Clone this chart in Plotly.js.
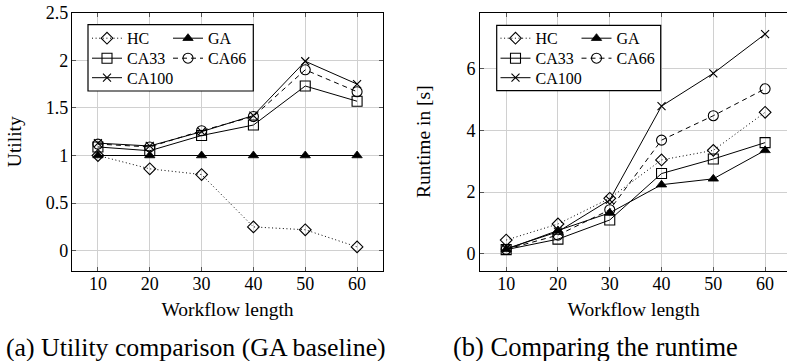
<!DOCTYPE html>
<html><head><meta charset="utf-8">
<script src="https://cdn.plot.ly/plotly-3.0.1.min.js"></script>
<style>html,body{margin:0;padding:0;background:#fff}#chart{width:787px;height:361px}</style>
</head><body><div id="chart"></div>
<script>
// ---- data ----
const workflowLength = [10, 20, 30, 40, 50, 60];
const seriesNames = ['HC', 'GA', 'CA33', 'CA66', 'CA100'];
const utilHC    = [1.00, 0.86, 0.80, 0.25, 0.22, 0.04];
const utilGA    = [1.00, 1.00, 1.00, 1.00, 1.00, 1.00];
const utilCA33  = [1.09, 1.05, 1.21, 1.32, 1.73, 1.57];
const utilCA66  = [1.12, 1.09, 1.26, 1.41, 1.90, 1.67];
const utilCA100 = [1.13, 1.10, 1.25, 1.42, 1.99, 1.75];
const runHC     = [0.45, 0.97, 1.80, 3.04, 3.35, 4.58];
const runGA     = [0.15, 0.76, 1.33, 2.24, 2.43, 3.35];
const runCA33   = [0.14, 0.48, 1.10, 2.60, 3.07, 3.60];
const runCA66   = [0.15, 0.61, 1.43, 3.68, 4.47, 5.34];
const runCA100  = [0.17, 0.72, 1.75, 4.78, 5.84, 7.11];
const utilTicks = [0, 0.5, 1, 1.5, 2, 2.5];
const utilTickText = ['0', '0.5', '1', '1.5', '2', '2.5'];
const runTicks = [0, 2, 4, 6];
const captions = ['(a) Utility comparison (GA baseline)', '(b) Comparing the runtime'];

// ---- helpers (pixel -> paper) ----
const W = 787, H = 361;
const px = v => v / W;
const py = v => (H - v) / H;

const styles = {
  HC:    {line: {color: '#000', width: 1, dash: '1px,2.6px'}, marker: {symbol: 'diamond-open', size: 9, color: '#000', line: {width: 1.1}}},
  GA:    {line: {color: '#000', width: 1}, marker: {symbol: 'triangle-up', size: 9, color: '#000', line: {width: 0.8, color: '#000'}}},
  CA33:  {line: {color: '#000', width: 1}, marker: {symbol: 'square-open', size: 10, color: '#000', line: {width: 1.1}}},
  CA66:  {line: {color: '#000', width: 1, dash: '5px,4px'}, marker: {symbol: 'circle-open', size: 10, color: '#000', line: {width: 1.1}}},
  CA100: {line: {color: '#000', width: 1}, marker: {symbol: 'x-thin-open', size: 8, color: '#000', line: {width: 1.1}}}
};
const legendWidths = {HC: 36, GA: 70, CA33: 36, CA66: 70, CA100: 90};

const utilData = {HC: utilHC, GA: utilGA, CA33: utilCA33, CA66: utilCA66, CA100: utilCA100};
const runData  = {HC: runHC, GA: runGA, CA33: runCA33, CA66: runCA66, CA100: runCA100};
const legendRowLeft  = {HC: 'legend', GA: 'legend', CA33: 'legend2', CA66: 'legend2', CA100: 'legend3'};
const legendRowRight = {HC: 'legend4', GA: 'legend4', CA33: 'legend5', CA66: 'legend5', CA100: 'legend6'};

const traces = [];
seriesNames.forEach(n => {
  traces.push(Object.assign({type: 'scatter', mode: 'lines+markers', name: n, x: workflowLength, y: utilData[n],
    xaxis: 'x', yaxis: 'y', legend: legendRowLeft[n], legendwidth: legendWidths[n], cliponaxis: false},
    JSON.parse(JSON.stringify(styles[n]))));
});
seriesNames.forEach(n => {
  traces.push(Object.assign({type: 'scatter', mode: 'lines+markers', name: n, x: workflowLength, y: runData[n],
    xaxis: 'x2', yaxis: 'y2', legend: legendRowRight[n], legendwidth: legendWidths[n], cliponaxis: true},
    JSON.parse(JSON.stringify(styles[n]))));
});

const FONT = 'Liberation Serif';
const legendBase = {orientation: 'h', xanchor: 'left', yanchor: 'middle', entrywidth: 36, entrywidthmode: 'pixels',
  bgcolor: 'rgba(0,0,0,0)', borderwidth: 0, itemwidth: 30, font: {family: FONT, size: 16, color: '#000'}, traceorder: 'normal'};
const mkLegend = (x, y) => Object.assign({}, legendBase, {x: px(x), y: py(y)});

const axisBase = {showgrid: true, gridcolor: '#d0d0d0', gridwidth: 1, showline: true, linecolor: '#000', linewidth: 1.2,
  ticks: 'inside', ticklen: 4, tickcolor: '#555', tickwidth: 1, zeroline: false, fixedrange: true,
  tickfont: {family: FONT, size: 18, color: '#000'}};

const yDom = [py(270.7), py(12.7)];

const layout = {
  width: W, height: H, margin: {l: 0, r: 0, t: 0, b: 0}, paper_bgcolor: '#fff', plot_bgcolor: '#fff',
  font: {family: FONT, color: '#000'}, showlegend: true,
  xaxis: Object.assign({}, axisBase, {domain: [px(72), px(383)], range: [5, 65], tickvals: workflowLength, mirror: 'ticks', anchor: 'y',
    ticklabelstandoff: -4,
    title: {text: 'Workflow length', font: {family: FONT, size: 19.5, color: '#000'}, standoff: 9}}),
  yaxis: Object.assign({}, axisBase, {domain: yDom, range: [-0.21, 2.5], tickvals: utilTicks, ticktext: utilTickText, mirror: 'ticks', anchor: 'x',
    ticklabelstandoff: -1,
    title: {text: 'Utility', font: {family: FONT, size: 19.5, color: '#000'}, standoff: 18}}),
  xaxis2: Object.assign({}, axisBase, {domain: [px(480.3), 1], range: [5, 64.23], tickvals: workflowLength, mirror: 'ticks', anchor: 'y2',
    ticklabelstandoff: -4,
    title: {text: 'Workflow length', font: {family: FONT, size: 19.5, color: '#000'}, standoff: 9}}),
  yaxis2: Object.assign({}, axisBase, {domain: yDom, range: [-0.54, 7.8], tickvals: runTicks, mirror: false, anchor: 'x2',
    ticklabelstandoff: 0,
    title: {text: 'Runtime in [s]', font: {family: FONT, size: 19.5, color: '#000'}, standoff: 30}}),
  legend:  mkLegend(87, 38.3),
  legend2: mkLegend(87, 58.3),
  legend3: mkLegend(87, 77.8),
  legend4: mkLegend(495.5, 38.3),
  legend5: mkLegend(495.5, 58.3),
  legend6: mkLegend(495.5, 77.8),
  shapes: [
    {type: 'rect', xref: 'paper', yref: 'paper', x0: px(88), x1: px(253.3), y0: py(91), y1: py(24.7),
      fillcolor: '#fff', line: {color: '#000', width: 1.2}, layer: 'above'},
    {type: 'rect', xref: 'paper', yref: 'paper', x0: px(496.7), x1: px(660.7), y0: py(90.7), y1: py(25.3),
      fillcolor: '#fff', line: {color: '#000', width: 1.2}, layer: 'above'}
  ],
  annotations: [
    {text: captions[0], xref: 'paper', yref: 'paper', x: px(388), y: py(347), xanchor: 'right', yanchor: 'middle',
      showarrow: false, font: {family: FONT, size: 25.8, color: '#000'}},
    {text: captions[1], xref: 'paper', yref: 'paper', x: px(595), y: py(347), xanchor: 'center', yanchor: 'middle',
      showarrow: false, font: {family: FONT, size: 26.5, color: '#000'}}
  ]
};

Plotly.newPlot('chart', traces, layout, {displayModeBar: false, staticPlot: true});
</script>
</body></html>
